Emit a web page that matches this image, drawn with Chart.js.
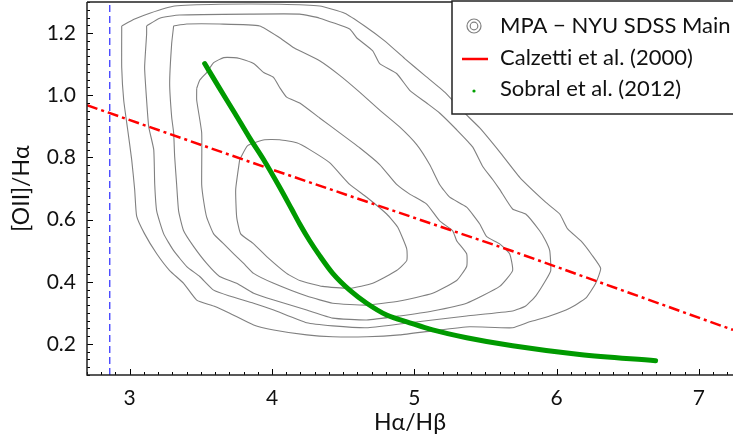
<!DOCTYPE html>
<html>
<head>
<meta charset="utf-8">
<script src="https://cdn.jsdelivr.net/npm/chart.js@4.4.0/dist/chart.umd.min.js"></script>
<style>
  html, body { margin: 0; padding: 0; background: #fff; }
  canvas { display: block; }
</style>
</head>
<body>
<canvas id="ratio-chart" width="733" height="439"></canvas>
<script>
// tick labels
const xTickValues = [3, 4, 5, 6, 7];
const yTickValues = [0.2, 0.4, 0.6, 0.8, 1.0, 1.2];

// intrinsic Balmer decrement (dashed blue line)
const caseBX = [2.86, 2.86];
const caseBY = [0.1, 1.3];

// Calzetti et al. (2000)
const calzettiX = [2.7, 4.0, 5.7, 7.24];
const calzettiY = [0.968, 0.761, 0.497, 0.245];

// Sobral et al. (2012)
const sobralX = [3.527, 3.632, 3.738, 3.843, 3.949, 4.054, 4.138, 4.195, 4.265, 4.335,
                 4.427, 4.546, 4.666, 4.806, 4.968, 5.129, 5.368, 5.691, 6.162, 6.696];
const sobralY = [1.102, 1.022, 0.943, 0.863, 0.787, 0.704, 0.634, 0.586, 0.532, 0.484,
                 0.427, 0.373, 0.331, 0.293, 0.268, 0.245, 0.220, 0.194, 0.166, 0.146];

// MPA-NYU SDSS contours, outer to inner, [Ha/Hb, [OII]/Ha]
const contour1 = [[2.944,1.223],[3.035,1.245],[3.141,1.264],[3.316,1.287],[3.632,1.293],[4.054,1.293],
  [4.335,1.287],[4.511,1.264],[4.651,1.223],[4.792,1.175],[4.933,1.118],[5.073,1.064],[5.214,1.010],
  [5.333,0.952],[5.460,0.895],[5.600,0.818],[5.741,0.736],[5.923,0.656],[6.022,0.618],[6.078,0.570],
  [6.176,0.529],[6.247,0.487],[6.310,0.443],[6.275,0.395],[6.205,0.347],[6.092,0.315],[5.952,0.290],
  [5.811,0.271],[5.691,0.252],[5.389,0.255],[5.129,0.242],[4.897,0.229],[4.666,0.223],[4.427,0.223],
  [4.244,0.229],[4.012,0.245],[3.871,0.261],[3.703,0.299],[3.590,0.322],[3.471,0.341],[3.379,0.395],
  [3.281,0.436],[3.190,0.490],[3.105,0.554],[3.049,0.611],[3.035,0.697],[3.014,0.793],[2.986,0.889],
  [2.958,0.984],[2.944,1.089]];
const contour2 = [[3.119,1.223],[3.211,1.248],[3.351,1.258],[3.843,1.261],[4.195,1.261],[4.335,1.248],
  [4.546,1.213],[4.595,1.185],[4.708,1.143],[4.757,1.102],[4.876,1.070],[4.968,1.016],[5.087,0.975],
  [5.178,0.943],[5.298,0.889],[5.410,0.834],[5.481,0.771],[5.551,0.729],[5.600,0.697],[5.691,0.634],
  [5.783,0.618],[5.881,0.564],[5.923,0.532],[5.952,0.500],[5.959,0.436],[5.923,0.404],[5.853,0.354],
  [5.783,0.322],[5.691,0.306],[5.368,0.290],[5.129,0.277],[4.897,0.264],[4.666,0.252],[4.427,0.258],
  [4.244,0.268],[4.012,0.309],[3.871,0.331],[3.703,0.354],[3.590,0.373],[3.492,0.417],[3.401,0.449],
  [3.309,0.500],[3.239,0.554],[3.190,0.627],[3.176,0.713],[3.169,0.825],[3.134,0.898],[3.119,0.984],
  [3.105,1.089],[3.119,1.197]];
const contour3 = [[3.309,1.223],[3.401,1.229],[3.632,1.229],[3.914,1.223],[4.054,1.185],[4.153,1.153],
  [4.195,1.143],[4.335,1.111],[4.476,1.064],[4.616,1.010],[4.757,0.952],[4.897,0.898],[5.017,0.841],
  [5.108,0.777],[5.178,0.713],[5.249,0.672],[5.368,0.640],[5.460,0.586],[5.509,0.545],[5.600,0.522],
  [5.670,0.490],[5.691,0.436],[5.600,0.385],[5.368,0.331],[5.129,0.306],[4.897,0.290],[4.666,0.277],
  [4.427,0.283],[4.244,0.309],[4.012,0.341],[3.871,0.363],[3.752,0.395],[3.632,0.417],[3.541,0.459],
  [3.450,0.513],[3.379,0.564],[3.344,0.627],[3.330,0.713],[3.316,0.803],[3.309,0.879],[3.295,0.930],
  [3.281,1.038],[3.295,1.166]];
const contour4 = [[3.471,1.022],[3.492,1.048],[3.541,1.073],[3.590,1.105],[3.661,1.121],[3.731,1.121],
  [3.773,1.118],[3.871,1.102],[3.942,1.073],[4.012,1.057],[4.054,1.025],[4.103,0.994],[4.195,0.975],
  [4.335,0.927],[4.476,0.879],[4.616,0.831],[4.757,0.777],[4.876,0.713],[4.968,0.682],[5.087,0.650],
  [5.178,0.596],[5.270,0.564],[5.298,0.532],[5.368,0.490],[5.368,0.449],[5.298,0.404],[5.129,0.363],
  [4.897,0.338],[4.666,0.325],[4.427,0.331],[4.244,0.354],[4.012,0.395],[3.871,0.427],[3.801,0.459],
  [3.731,0.490],[3.661,0.522],[3.590,0.554],[3.541,0.608],[3.520,0.659],[3.506,0.713],[3.506,0.879],
  [3.471,0.984]];
const contour5 = [[3.773,0.793],[3.829,0.838],[3.949,0.857],[4.054,0.857],[4.174,0.847],[4.265,0.825],
  [4.405,0.783],[4.546,0.713],[4.666,0.672],[4.806,0.618],[4.883,0.576],[4.947,0.506],[4.947,0.468],
  [4.876,0.436],[4.708,0.395],[4.546,0.379],[4.356,0.385],[4.195,0.404],[4.103,0.427],[3.963,0.481],
  [3.871,0.522],[3.780,0.554],[3.752,0.608],[3.745,0.697]];

const contours = [contour1, contour2, contour3, contour4, contour5];

const FONT = 'Lato, "DejaVu Sans", sans-serif';

function toPoints(xs, ys) {
    return xs.map((x, i) => ({ x: x, y: ys[i] }));
}

// closed polyline for a contour
function ringPoints(ring) {
    const pts = ring.map(p => ({ x: p[0], y: p[1] }));
    pts.push({ x: ring[0][0], y: ring[0][1] });
    return pts;
}

// inward ticks and the frame, matplotlib style
const frameTicks = {
    id: 'frameTicks',
    afterDatasetsDraw(chart) {
        const ctx = chart.ctx;
        const a = chart.chartArea;
        const sx = chart.scales.x, sy = chart.scales.y;
        ctx.save();
        ctx.strokeStyle = '#000';
        ctx.lineWidth = 1;
        ctx.beginPath();
        for (let i = 27; i <= 72; i++) {
            const px = Math.round(sx.getPixelForValue(i / 10)) + 0.5;
            const len = i % 10 === 0 ? 6 : 3;
            ctx.moveTo(px, a.bottom);
            ctx.lineTo(px, a.bottom - len);
        }
        for (let i = 4; i <= 52; i++) {
            const py = Math.round(sy.getPixelForValue(i * 0.025)) + 0.5;
            const len = i % 8 === 0 ? 6 : 3;
            ctx.moveTo(a.left, py);
            ctx.lineTo(a.left + len, py);
        }
        ctx.stroke();
        ctx.lineWidth = 1.5;
        ctx.strokeStyle = '#222';
        ctx.beginPath();
        ctx.moveTo(a.left, a.top);
        ctx.lineTo(a.right, a.top);
        ctx.moveTo(a.left, a.top);
        ctx.lineTo(a.left, a.bottom);
        ctx.lineTo(a.right, a.bottom);
        ctx.stroke();
        ctx.restore();
    }
};

// boxed legend in the top right corner
const boxLegend = {
    id: 'boxLegend',
    afterDraw(chart) {
        const ctx = chart.ctx;
        const a = chart.chartArea;
        const x0 = a.right - 281, y0 = a.top - 1, w = 290, h = 113;
        ctx.save();
        ctx.fillStyle = '#fff';
        ctx.fillRect(x0, y0, w, h);
        ctx.strokeStyle = '#222';
        ctx.lineWidth = 1.5;
        ctx.strokeRect(x0, y0, w, h);

        // contour icon
        ctx.strokeStyle = '#808080';
        ctx.lineWidth = 1.2;
        ctx.beginPath();
        ctx.arc(x0 + 22, y0 + 25, 7, 0, Math.PI * 2);
        ctx.stroke();
        ctx.beginPath();
        ctx.arc(x0 + 22, y0 + 25, 3.8, 0, Math.PI * 2);
        ctx.stroke();
        // red line
        ctx.strokeStyle = '#ff0000';
        ctx.lineWidth = 2.5;
        ctx.beginPath();
        ctx.moveTo(x0 + 10, y0 + 58);
        ctx.lineTo(x0 + 36, y0 + 58);
        ctx.stroke();
        // green dot
        ctx.fillStyle = '#00a000';
        ctx.beginPath();
        ctx.arc(x0 + 22, y0 + 90, 1.6, 0, Math.PI * 2);
        ctx.fill();

        ctx.fillStyle = '#111';
        ctx.font = '22px ' + FONT;
        ctx.textBaseline = 'middle';
        ctx.textAlign = 'left';
        ctx.fillText('MPA \u2212 NYU SDSS Main', x0 + 48, y0 + 25);
        ctx.fillText('Calzett\u200ci et al. (2000)', x0 + 48, y0 + 57);
        ctx.fillText('Sobral et al. (2012)', x0 + 48, y0 + 88);
        ctx.restore();
    }
};

function createRatioChart() {
    const datasets = [
        {
            label: 'Sobral et al. (2012)',
            data: toPoints(sobralX, sobralY),
            showLine: true,
            borderColor: '#009a00',
            borderWidth: 5,
            pointRadius: 0,
            cubicInterpolationMode: 'monotone',
            borderCapStyle: 'round',
            order: 0
        },
        {
            label: 'Calzetti et al. (2000)',
            data: toPoints(calzettiX, calzettiY),
            showLine: true,
            borderColor: '#ff0000',
            borderWidth: 2.5,
            borderDash: [11, 4, 3, 4],
            pointRadius: 0,
            order: 1
        },
        {
            label: 'Case B',
            data: toPoints(caseBX, caseBY),
            showLine: true,
            borderColor: '#2b2bff',
            borderWidth: 1.2,
            borderDash: [7, 4],
            pointRadius: 0,
            order: 2
        }
    ];

    contours.forEach((ring, i) => {
        datasets.push({
            label: 'MPA - NYU SDSS Main ' + (i + 1),
            data: ringPoints(ring),
            showLine: true,
            borderColor: '#808080',
            borderWidth: 1.1,
            pointRadius: 0,
            tension: 0.15,
            order: 3
        });
    });

    const ctx = document.getElementById('ratio-chart').getContext('2d');
    new Chart(ctx, {
        type: 'scatter',
        data: { datasets: datasets },
        options: {
            responsive: false,
            animation: false,
            layout: { padding: { top: 2, right: 0, left: 0, bottom: 0 } },
            plugins: {
                legend: { display: false },
                tooltip: { enabled: false }
            },
            scales: {
                x: {
                    type: 'linear',
                    min: 2.7,
                    max: 7.24,
                    afterBuildTicks: s => { s.ticks = xTickValues.map(v => ({ value: v })); },
                    afterFit: s => {
                        s.height = 64;
                        s.paddingLeft = 0;
                        s.paddingRight = 0;
                    },
                    grid: { display: false, drawTicks: false },
                    border: { display: false },
                    ticks: {
                        color: '#111',
                        padding: 11,
                        font: { family: FONT, size: 21 },
                        callback: v => String(v)
                    },
                    title: {
                        display: true,
                        text: 'H\u03b1/H\u03b2',
                        color: '#111',
                        font: { family: FONT, size: 23 },
                        padding: { top: 0, bottom: 3 }
                    }
                },
                y: {
                    type: 'linear',
                    min: 0.1,
                    max: 1.3,
                    afterBuildTicks: s => { s.ticks = yTickValues.map(v => ({ value: v })); },
                    afterFit: s => {
                        s.width = 87;
                        s.paddingTop = 0;
                        s.paddingBottom = 0;
                    },
                    grid: { display: false, drawTicks: false },
                    border: { display: false },
                    ticks: {
                        color: '#111',
                        padding: 11,
                        font: { family: FONT, size: 21 },
                        callback: v => v.toFixed(1)
                    },
                    title: {
                        display: true,
                        text: '[OII]/H\u03b1',
                        color: '#111',
                        font: { family: FONT, size: 23 },
                        padding: { top: 8, bottom: 0 }
                    }
                }
            }
        },
        plugins: [frameTicks, boxLegend]
    });
}

window.addEventListener('DOMContentLoaded', createRatioChart);
</script>
</body>
</html>
